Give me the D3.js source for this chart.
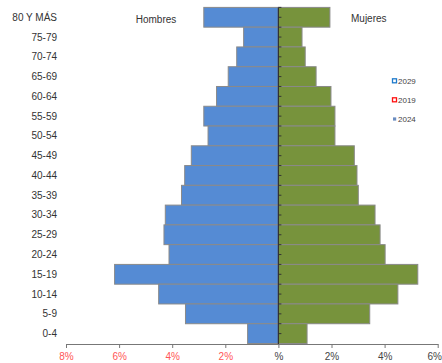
<!DOCTYPE html>
<html><head><meta charset="utf-8">
<script src="https://cdn.jsdelivr.net/npm/d3@7"></script>
<style>html,body{margin:0;padding:0;background:#fff;}svg{display:block;}</style>
</head><body>
<svg id="c" width="442" height="363"></svg>
<script>
const ages = ["80 Y MÁS","75-79","70-74","65-69","60-64","55-59","50-54","45-49","40-44","35-39","30-34","25-29","20-24","15-19","10-14","5-9","0-4"];
const hombres = [2.81,1.31,1.57,1.89,2.33,2.81,2.65,3.28,3.53,3.65,4.26,4.31,4.12,6.17,4.51,3.50,1.16];
const mujeres = [1.94,0.89,1.01,1.42,1.98,2.13,2.13,2.86,2.96,3.01,3.64,3.83,4.02,5.25,4.50,3.44,1.08];
const xTicks = [-8,-6,-4,-2,0,2,4,6];
const legendItems = ["2029","2019","2024"];
const seriesNames = ["Hombres","Mujeres"];

const svg = d3.select("#c");
const font = "'Liberation Sans', Arial, sans-serif";
const x = d3.scaleLinear().domain([-8,6]).range([66,437.7]);
const y = d3.scaleBand().domain(ages).range([7.4,343.5]).padding(0);

// bars
svg.append("g").selectAll("rect").data(ages).join("rect")
  .attr("x", (d,i)=>x(-hombres[i])).attr("y", d=>y(d))
  .attr("width",(d,i)=>x(0)-x(-hombres[i])).attr("height", y.bandwidth())
  .attr("fill","#558BD4").attr("stroke","#8a8a8a").attr("stroke-width",1);
svg.append("g").selectAll("rect").data(ages).join("rect")
  .attr("x", x(0)).attr("y", d=>y(d))
  .attr("width",(d,i)=>x(mujeres[i])-x(0)).attr("height", y.bandwidth())
  .attr("fill","#77933C").attr("stroke","#8a8a8a").attr("stroke-width",1);

// bottom axis
const xAxis = d3.axisBottom(x).tickValues(xTicks).tickSize(4).tickSizeOuter(0)
  .tickFormat(v => v===0 ? "%" : Math.abs(v)+"%");
const gx = svg.append("g").attr("transform","translate(0,344)").call(xAxis);
gx.select(".domain").attr("stroke","#777");
gx.selectAll(".tick line").attr("stroke","#777");
gx.selectAll(".tick text").attr("font-family",font).attr("font-size","10px").attr("dy","0.9em")
  .attr("fill", v => v<0 ? "#FF5555" : "#444");
// keep last label inside the picture
gx.selectAll(".tick text").filter(v => v===xTicks[xTicks.length-1])
  .attr("text-anchor","end").attr("x", 441.5 - x(xTicks[xTicks.length-1]));

// center axis with half-band ticks
const cx = x(0);
svg.append("line").attr("x1",cx).attr("x2",cx).attr("y1",y.range()[0]).attr("y2",344)
  .attr("stroke","#333").attr("stroke-width",1.2);
const half = [];
ages.forEach(a=>{ half.push(y(a)); half.push(y(a)+y.bandwidth()/2); });
svg.append("g").selectAll("line").data(half).join("line")
  .attr("x1",cx).attr("x2",cx+3).attr("y1",d=>d).attr("y2",d=>d)
  .attr("stroke","#333").attr("stroke-width",1);

// age labels
svg.append("g").selectAll("text").data(ages).join("text")
  .attr("x",57).attr("y",d=>y(d)+y.bandwidth()/2).attr("dy","0.35em")
  .attr("text-anchor","end").attr("font-family",font).attr("font-size","10px")
  .attr("fill","#333").text(d=>d);

// series titles
svg.append("text").attr("x",156).attr("y",22.5).attr("text-anchor","middle")
  .attr("font-family",font).attr("font-size","10px").attr("fill","#333").text(seriesNames[0]);
svg.append("text").attr("x",351).attr("y",22).attr("text-anchor","start")
  .attr("font-family",font).attr("font-size","10px").attr("fill","#333").text(seriesNames[1]);

// legend
const ly = [81,100,119];
const lg = svg.append("g");
lg.append("rect").attr("x",392.5).attr("y",ly[0]-2.2).attr("width",4).attr("height",4)
  .attr("fill","#fff").attr("stroke","#1F7ACB").attr("stroke-width",1.3);
lg.append("rect").attr("x",392.5).attr("y",ly[1]-2.2).attr("width",4).attr("height",4)
  .attr("fill","#fff").attr("stroke","#FF1010").attr("stroke-width",1.3);
lg.append("rect").attr("x",393).attr("y",ly[2]-1.6).attr("width",3.2).attr("height",3.2)
  .attr("fill","#6A8CC0");
lg.selectAll("text").data(legendItems).join("text")
  .attr("x",398).attr("y",(d,i)=>ly[i]).attr("dy","0.35em")
  .attr("font-family",font).attr("font-size","8px").attr("fill","#444").text(d=>d);
</script>
</body></html>
